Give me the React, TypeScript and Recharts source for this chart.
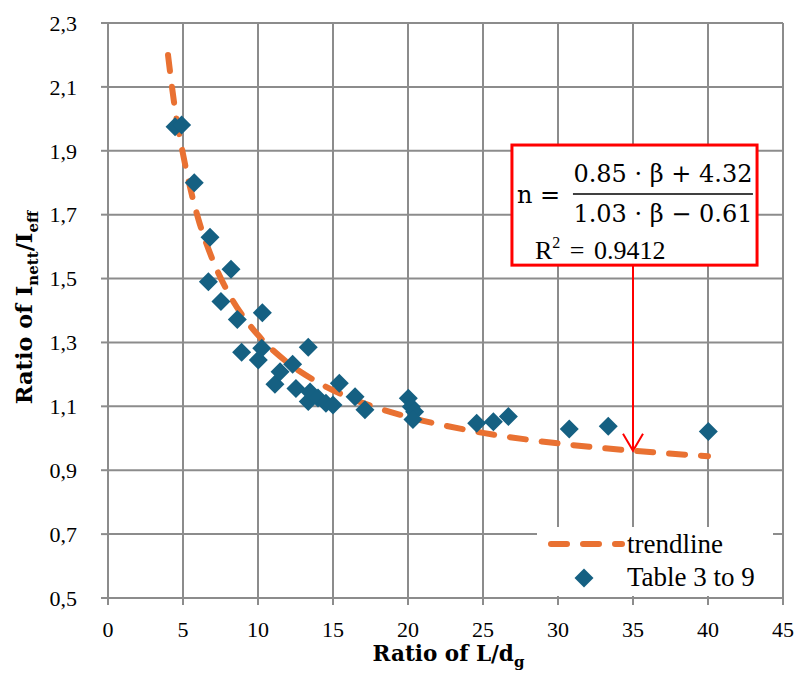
import React from 'react';
import { ScatterChart, Scatter, XAxis, YAxis, CartesianGrid, ReferenceArea, ReferenceLine } from 'recharts';

// axes
const xTicks = [0, 5, 10, 15, 20, 25, 30, 35, 40, 45];
const yTicks = [0.5, 0.7, 0.9, 1.1, 1.3, 1.5, 1.7, 1.9, 2.1, 2.3];

// measured points (Table 3 to 9)
const tableLd = [
  4.47, 4.91, 5.75, 6.8, 6.69, 8.2, 7.53, 8.62, 10.29, 8.91, 10.02, 10.25, 13.35,
  11.13, 11.47, 12.31, 12.53, 13.35, 13.47, 14.0, 14.53, 15.0, 15.42, 16.47, 17.13,
  20.02, 20.22, 20.44, 20.33, 24.58, 25.69, 26.69, 30.75, 33.35, 40.02,
];
const tableRatio = [
  1.975, 1.981, 1.8, 1.629, 1.49, 1.529, 1.428, 1.372, 1.393, 1.269, 1.245, 1.282, 1.285,
  1.169, 1.208, 1.232, 1.156, 1.115, 1.145, 1.126, 1.11, 1.104, 1.172, 1.13, 1.089,
  1.125, 1.099, 1.083, 1.059, 1.047, 1.052, 1.068, 1.029, 1.038, 1.021,
];

// trendline
const trendLd = [4, 4.5, 5, 5.5, 6, 7, 8, 9, 10, 12, 14, 16, 18, 20, 25, 30, 35, 40];
const trendRatio = [2.2, 2.02, 1.89, 1.78, 1.69, 1.556, 1.457, 1.382, 1.323, 1.236, 1.175, 1.129, 1.094, 1.067, 1.017, 0.984, 0.961, 0.944];

// annotation box corners and arrow (data units)
const boxLd = [26.93, 43.27];
const boxRatio = [1.542, 1.918];
const arrowLd = 35;
const arrowRatio = [1.542, 0.961];

const points = tableLd.map((x, i) => ({ x, y: tableRatio[i] }));
const trend = trendLd.map((x, i) => ({ x, y: trendRatio[i] }));

const BLUE = '#156082';
const ORANGE = '#E97132';
const GRID = '#8c8c8c';
const SERIF = '"Liberation Serif", Tinos, "Times New Roman", "DejaVu Serif"';
const MATH = '"DejaVu Serif"';

const Diamond = (p: any) => {
  const { cx, cy } = p;
  const r = 9.5;
  return <polygon points={`${cx},${cy - r} ${cx + r},${cy} ${cx},${cy + r} ${cx - r},${cy}`} fill={BLUE} />;
};

const FormulaBox = (p: any) => {
  const { x, y, width, height } = p;
  return (
    <g>
      <rect x={x} y={y} width={width} height={height} fill="#fff" stroke="#ff0000" strokeWidth={3} />
      <text x={x + 5} y={y + 58} style={{ fontFamily: MATH }} fontSize={24} fill="#000">n =</text>
      <text x={x + 151} y={y + 37} style={{ fontFamily: MATH }} fontSize={24} fill="#000" textAnchor="middle">0.85 · β + 4.32</text>
      <line x1={x + 61} x2={x + 241} y1={y + 49} y2={y + 49} stroke="#000" strokeWidth={1.5} />
      <text x={x + 151} y={y + 77} style={{ fontFamily: MATH }} fontSize={24} fill="#000" textAnchor="middle">1.03 · β − 0.61</text>
      <text x={x + 23} y={y + 114} style={{ fontFamily: SERIF }} fontSize={26} fill="#000" wordSpacing={3}>
        R<tspan fontSize={16} dy={-11}>2</tspan><tspan dy={11}> = 0.9412</tspan>
      </text>
    </g>
  );
};

const Arrow = (p: any) => {
  const { x1, y1, x2, y2 } = p;
  return (
    <g stroke="#ff0000" strokeWidth={2} fill="none">
      <line x1={x1} y1={y1} x2={x2} y2={y2} />
      <polyline points={`${x2 - 10},${y2 - 17} ${x2},${y2} ${x2 + 10},${y2 - 17}`} />
    </g>
  );
};

const XTitle = (p: any) => {
  const { x, y, width } = p.viewBox;
  return (
    <text x={x + width / 2 + 3} y={y + 63} textAnchor="middle" style={{ fontFamily: MATH }} fontWeight="bold" fontSize={21.5} fill="#000">
      Ratio of L/d<tspan fontSize={15} dy={6}>g</tspan>
    </text>
  );
};

const YTitle = (p: any) => {
  const { y, height } = p.viewBox;
  const cx = 32;
  const cy = y + height / 2 - 3;
  return (
    <text x={cx} y={cy} transform={`rotate(-90 ${cx} ${cy})`} textAnchor="middle" style={{ fontFamily: MATH }} fontWeight="bold" fontSize={22.5} fill="#000">
      Ratio of I<tspan fontSize={15} dy={6}>nett</tspan><tspan dy={-6}>/I</tspan><tspan fontSize={15} dy={6}>eff</tspan>
    </text>
  );
};

const LegendBox = () => (
  <svg width={236} height={69} style={{ position: 'absolute', left: 537, top: 527 }}>
    <rect x={0} y={0} width={236} height={69} fill="#fff" />
    <line x1={14} x2={85} y1={17} y2={17} stroke={ORANGE} strokeWidth={6} strokeDasharray="16 16" strokeLinecap="round" />
    <text x={90} y={26} style={{ fontFamily: SERIF }} fontSize={27} fill="#000">trendline</text>
    <polygon points="47,41.5 56.5,51 47,60.5 37.5,51" fill={BLUE} />
    <text x={90} y={59} style={{ fontFamily: SERIF }} fontSize={27} fill="#000">Table 3 to 9</text>
  </svg>
);

const tickStyle = { fontSize: 22, fill: '#000', style: { fontFamily: SERIF } };

export default function App() {
  return (
    <div style={{ position: 'absolute', left: 0, top: 0, width: 797, height: 675, background: '#fff', fontFamily: SERIF }}>
      <ScatterChart width={797} height={675} margin={{ top: 23, right: 14, left: 0, bottom: 0 }} style={{ fontFamily: SERIF }}>
        <CartesianGrid stroke={GRID} strokeWidth={2} />
        <XAxis
          type="number"
          dataKey="x"
          domain={[0, 45]}
          ticks={xTicks}
          height={77}
          axisLine={{ stroke: GRID, strokeWidth: 2 }}
          tickLine={{ stroke: GRID, strokeWidth: 2 }}
          tickSize={7}
          tickMargin={16}
          tick={tickStyle}
          label={{ content: XTitle }}
        />
        <YAxis
          type="number"
          dataKey="y"
          domain={[0.5, 2.3]}
          ticks={yTicks}
          width={108}
          axisLine={{ stroke: GRID, strokeWidth: 2 }}
          tickLine={{ stroke: GRID, strokeWidth: 2 }}
          tickSize={7}
          tickMargin={24}
          tick={tickStyle}
          tickFormatter={(v: number) => v.toFixed(1).replace('.', ',')}
          label={{ content: YTitle }}
        />
        <Scatter
          data={trend}
          line={{ stroke: ORANGE, strokeWidth: 6, strokeDasharray: '16 16', strokeLinecap: 'round' }}
          lineType="joint"
          lineJointType="monotoneX"
          shape={() => <g />}
          isAnimationActive={false}
        />
        <Scatter data={points} shape={Diamond} isAnimationActive={false} />
        <ReferenceArea x1={boxLd[0]} x2={boxLd[1]} y1={boxRatio[0]} y2={boxRatio[1]} shape={FormulaBox} />
        <ReferenceLine
          segment={[{ x: arrowLd, y: arrowRatio[0] }, { x: arrowLd, y: arrowRatio[1] }]}
          shape={Arrow}
        />
      </ScatterChart>
      <LegendBox />
    </div>
  );
}
